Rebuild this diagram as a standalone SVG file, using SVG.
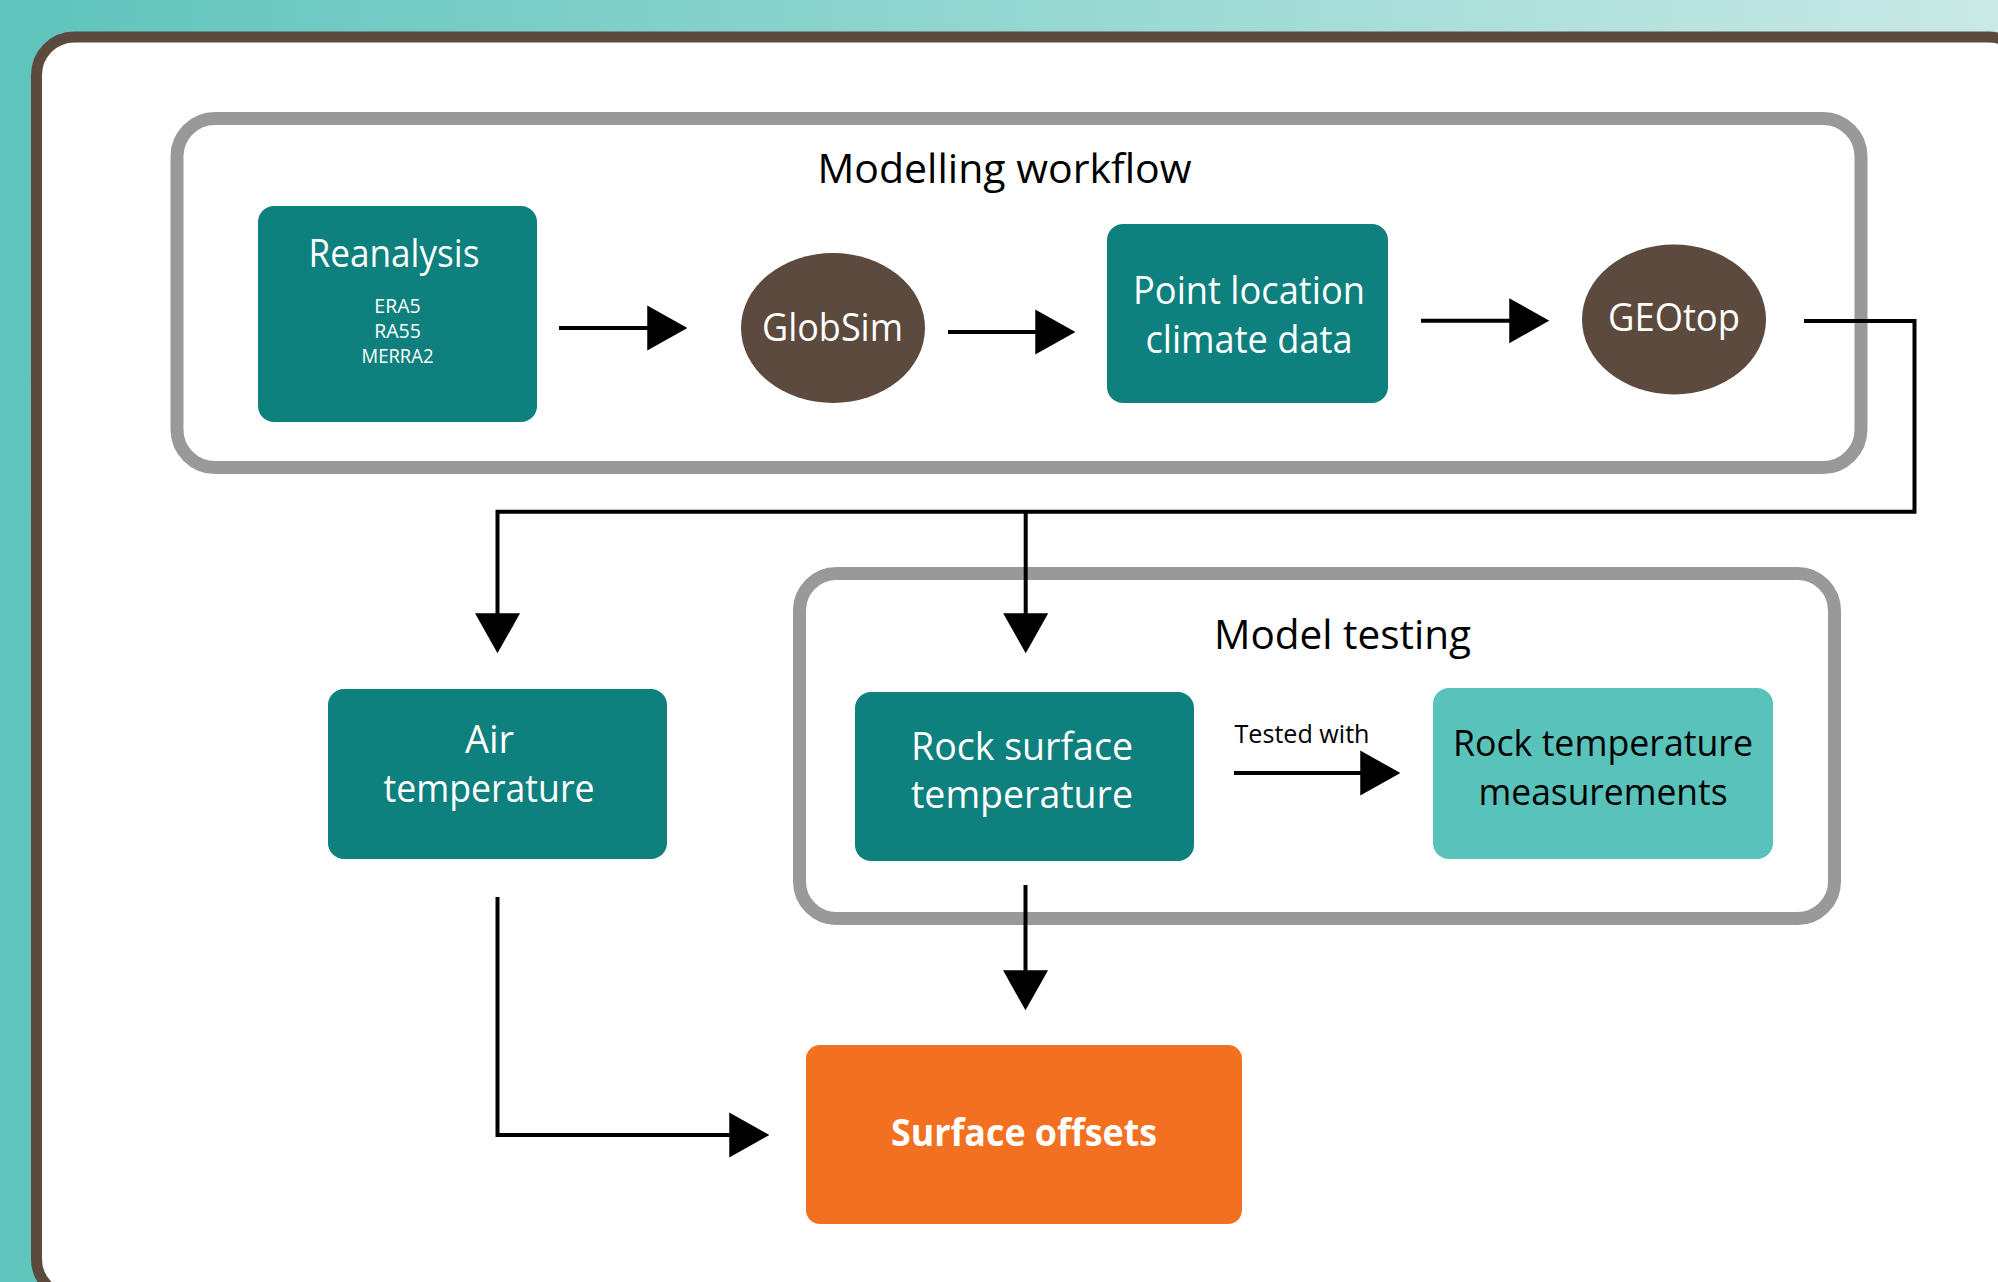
<svg xmlns="http://www.w3.org/2000/svg" width="1998" height="1282" viewBox="0 0 1998 1282">
<defs>
<linearGradient id="bg" x1="0" y1="0" x2="1" y2="0">
<stop offset="0" stop-color="#5ec4bc"/>
<stop offset="1" stop-color="#c9e9e6"/>
</linearGradient>
<marker id="ah" markerUnits="userSpaceOnUse" markerWidth="40" markerHeight="46" viewBox="0 0 39 44" refX="29" refY="22" orient="auto">
<path d="M0,0 L39,22 L0,44 Z" fill="#000"/>
</marker>
<style>
.t{font-family:"Open Sans","Liberation Sans",sans-serif;text-anchor:middle}
.w{fill:#fff}
.k{fill:#000}
.teal{fill:#0e807e}
.brn{fill:#5b4a3d}
.lt{fill:#58c2bb}
.org{fill:#f37021}
.cont{fill:none;stroke:#999999;stroke-width:13}
.conn{fill:none;stroke:#000;stroke-width:4;marker-end:url(#ah)}
</style>
</defs>
<rect width="1998" height="1282" fill="url(#bg)"/>
<rect x="36.5" y="37" width="1990" height="1260" rx="38" fill="#fff" stroke="#5b4a3d" stroke-width="11"/>

<g id="modelling-workflow">
<rect class="cont" x="177" y="118.5" width="1684" height="349" rx="38"/>
<text class="t k" x="1004.5" y="183" font-size="39.5" textLength="374" lengthAdjust="spacingAndGlyphs">Modelling workflow</text>
</g>
<g id="model-testing">
<rect class="cont" x="799.5" y="573.5" width="1035" height="345" rx="37"/>
<text class="t k" x="1342.5" y="649" font-size="40" textLength="257" lengthAdjust="spacingAndGlyphs">Model testing</text>
</g>

<g id="reanalysis">
<rect class="teal" x="258" y="206" width="279" height="216" rx="16"/>
<text class="t w" x="394" y="267" font-size="38.5" textLength="171" lengthAdjust="spacingAndGlyphs">Reanalysis</text>
<text class="t w" x="397.5" y="313" font-size="19.5">ERA5</text>
<text class="t w" x="397.5" y="338" font-size="19.5">RA55</text>
<text class="t w" x="397.5" y="363" font-size="19.5" textLength="72" lengthAdjust="spacingAndGlyphs">MERRA2</text>
</g>
<g id="globsim">
<ellipse class="brn" cx="833" cy="328" rx="92" ry="75"/>
<text class="t w" x="832.5" y="341" font-size="38.5" textLength="141" lengthAdjust="spacingAndGlyphs">GlobSim</text>
</g>
<g id="point-location">
<rect class="teal" x="1107" y="224" width="281" height="179" rx="16"/>
<text class="t w" x="1249" y="304" font-size="38" textLength="232" lengthAdjust="spacingAndGlyphs">Point location</text>
<text class="t w" x="1249" y="353" font-size="38" textLength="207" lengthAdjust="spacingAndGlyphs">climate data</text>
</g>
<g id="geotop">
<ellipse class="brn" cx="1674" cy="319.5" rx="92" ry="75"/>
<text class="t w" x="1674" y="331" font-size="38" textLength="132" lengthAdjust="spacingAndGlyphs">GEOtop</text>
</g>
<g id="air-temperature">
<rect class="teal" x="328" y="689" width="339" height="170" rx="16"/>
<text class="t w" x="489.5" y="753" font-size="38">Air</text>
<text class="t w" x="489" y="802" font-size="38" textLength="211" lengthAdjust="spacingAndGlyphs">temperature</text>
</g>
<g id="rock-surface-temperature">
<rect class="teal" x="855" y="692" width="339" height="169" rx="16"/>
<text class="t w" x="1022" y="760" font-size="38.5" textLength="222" lengthAdjust="spacingAndGlyphs">Rock surface</text>
<text class="t w" x="1022" y="808" font-size="38.5" textLength="222" lengthAdjust="spacingAndGlyphs">temperature</text>
</g>
<g id="rock-temperature-measurements">
<rect class="lt" x="1433" y="688" width="340" height="171" rx="16"/>
<text class="t k" x="1603" y="756" font-size="36" textLength="300" lengthAdjust="spacingAndGlyphs">Rock temperature</text>
<text class="t k" x="1603" y="805" font-size="36" textLength="249" lengthAdjust="spacingAndGlyphs">measurements</text>
</g>
<g id="surface-offsets">
<rect class="org" x="806" y="1045" width="436" height="179" rx="14"/>
<text class="t w" x="1024" y="1146" font-size="38" font-weight="bold" textLength="266" lengthAdjust="spacingAndGlyphs">Surface offsets</text>
</g>

<g id="connectors">
<path class="conn" d="M559,328 H677"/>
<path class="conn" d="M948,332 H1065"/>
<path class="conn" d="M1421,320.7 H1539"/>
<path class="conn" d="M1804,321 H1914.5 V511.7 H497.5 V643"/>
<path class="conn" d="M1025.7,511.7 V643"/>
<path class="conn" d="M1025.5,885 V1000"/>
<path class="conn" d="M497.5,897 V1135 H759"/>
<path class="conn" d="M1234,773 H1390"/>
<text class="t k" x="1302" y="743" font-size="25.5" textLength="135" lengthAdjust="spacingAndGlyphs">Tested with</text>
</g>
</svg>
